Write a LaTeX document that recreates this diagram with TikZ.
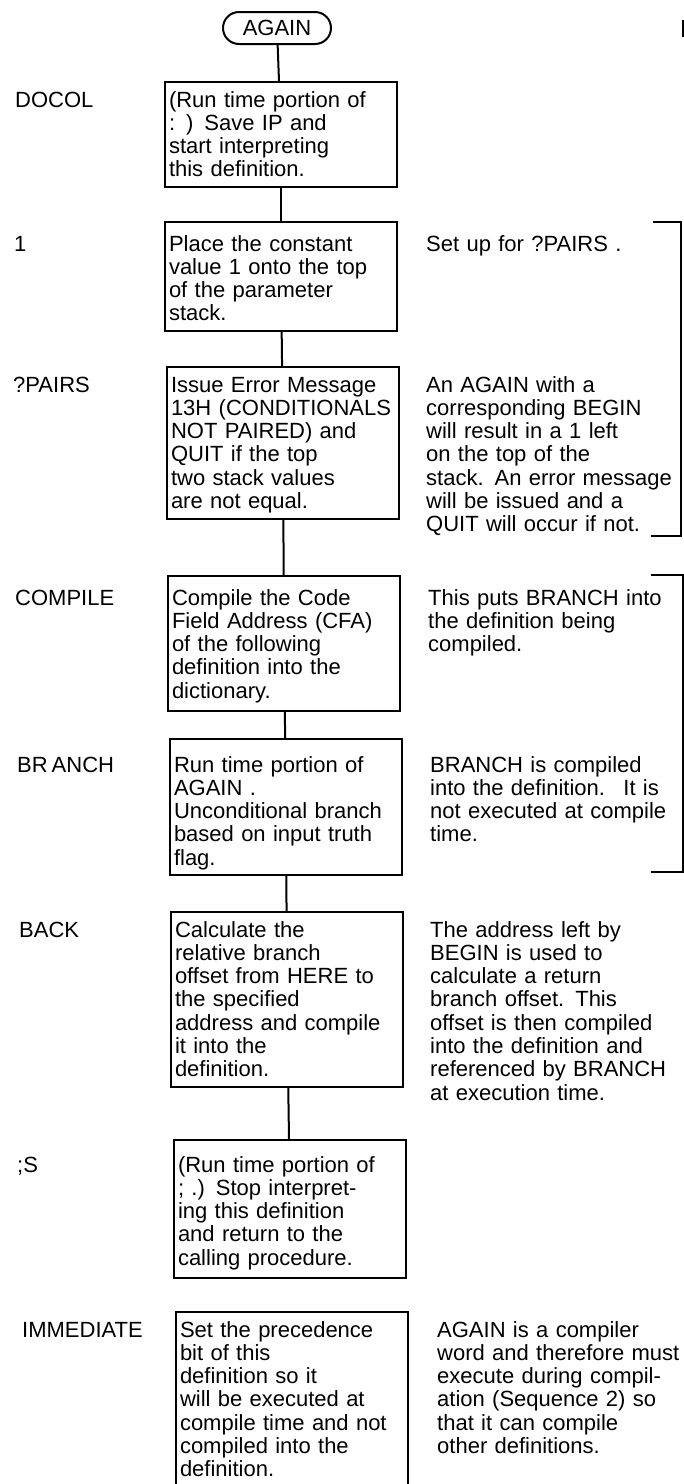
\documentclass[tikz,border=0pt]{standalone}
\usepackage{fontspec}
\setmainfont{Liberation Sans}
\usetikzlibrary{shapes.misc}

\begin{document}
\begin{tikzpicture}[x=1pt,y=-1pt,
    every node/.style={font=\fontsize{22}{23.3}\selectfont},
    term/.style={rounded rectangle,draw,line width=2pt,minimum width=108pt,minimum height=32pt,inner sep=0pt},
    stepbox/.style={draw,line width=2pt,anchor=base,text width=224pt,inner xsep=4pt,inner ysep=3pt,align=left,text height=22pt,foot=7pt},
    foot/.style={execute at end node={\rule[-#1]{0pt}{#1}}},
    lbl/.style={anchor=base west,inner sep=0pt},
    note/.style={anchor=base west,inner sep=0pt,text width=250pt,align=left},
    link/.style={line width=2pt},
    brace/.style={line width=1.6pt}]
  \fill[white] (0,0) rectangle (684,1484);
  \useasboundingbox (0,0) rectangle (684,1484);

  \node[term] (again) at (277,28) {AGAIN};

  \node[lbl] (docolname) at (15,107) {DOCOL};
  \node[stepbox] (docol) at (281,107) {(Run time portion of\\: ) Save IP and\\start interpreting\\this definition.};

  \node[lbl] (onename) at (14,251) {1};
  \node[stepbox,text height=26pt] (one) at (281,251) {Place the constant\\value 1 onto the top\\of the parameter\\stack.};
  \node[note] (onenote) at (426,251) {Set up for ?PAIRS .};

  \node[lbl] (pairsname) at (13,392) {?PAIRS};
  \node[stepbox] (pairs) at (283,392) {Issue Error Message\\13H (CONDITIONALS\\NOT PAIRED) and\\QUIT if the top\\two stack values\\are not equal.};
  \node[note] (pairsnote) at (426,392) {An AGAIN with a\\corresponding BEGIN\\will result in a 1 left\\on the top of the\\stack. An error message\\will be issued and a\\QUIT will occur if not.};

  \node[lbl] (compilename) at (15,605) {COMPILE};
  \node[stepbox,text height=26pt,foot=10pt] (compile) at (284,605) {Compile the Code\\Field Address (CFA)\\of the following\\definition into the\\dictionary.};
  \node[note] (compilenote) at (428,605) {This puts BRANCH into\\the definition being\\compiled.};

  \node[lbl] (branchname) at (17,772) {BR\kern4pt ANCH};
  \node[stepbox,text height=30pt] (branch) at (286,772) {Run time portion of\\AGAIN .\\Unconditional branch\\based on input truth\\flag.};
  \node[note] (branchnote) at (430,772) {BRANCH is compiled\\into the definition. \ It is\\not executed at compile\\time.};

  \node[lbl] (backname) at (19,937) {BACK};
  \node[stepbox] (back) at (287,937) {Calculate the\\relative branch\\offset from HERE to\\the specified\\address and compile\\it into the\\definition.};
  \node[note] (backnote) at (430,937) {The address left by\\BEGIN is used to\\calculate a return\\branch offset. This\\offset is then compiled\\into the definition and\\referenced by BRANCH\\at execution time.};

  \node[lbl] (semisname) at (17,1172) {;S};
  \node[stepbox,text height=29pt,foot=10pt] (semis) at (290,1172) {(Run time portion of\\; .) Stop interpret-\\ing this definition\\and return to the\\calling procedure.};

  \node[lbl] (immedname) at (22,1337) {IMMEDIATE};
  \node[stepbox,foot=1pt] (immed) at (292,1337) {Set the precedence\\bit of this\\definition so it\\will be executed at\\compile time and not\\compiled into the\\definition.};
  \node[note] (immednote) at (437,1337) {AGAIN is a compiler\\word and therefore must\\execute during compil-\\ation (Sequence 2) so\\that it can compile\\other definitions.};

  % flow
  \draw[link] (again) -- (docol);
  \draw[link] (docol) -- (one);
  \draw[link] (one) -- (pairs);
  \draw[link] (pairs) -- (compile);
  \draw[link] (compile) -- (branch);
  \draw[link] (branch) -- (back);
  \draw[link] (back) -- (semis);

  % margin brackets
  \draw[line width=2.5pt] (683,20) -- (683,37);
  \draw[brace] (653,222) -- (681,222) -- (681,536) -- (651,536);
  \draw[brace] (651,575) -- (683,575) -- (683,872) -- (651,872);
\end{tikzpicture}
\end{document}
